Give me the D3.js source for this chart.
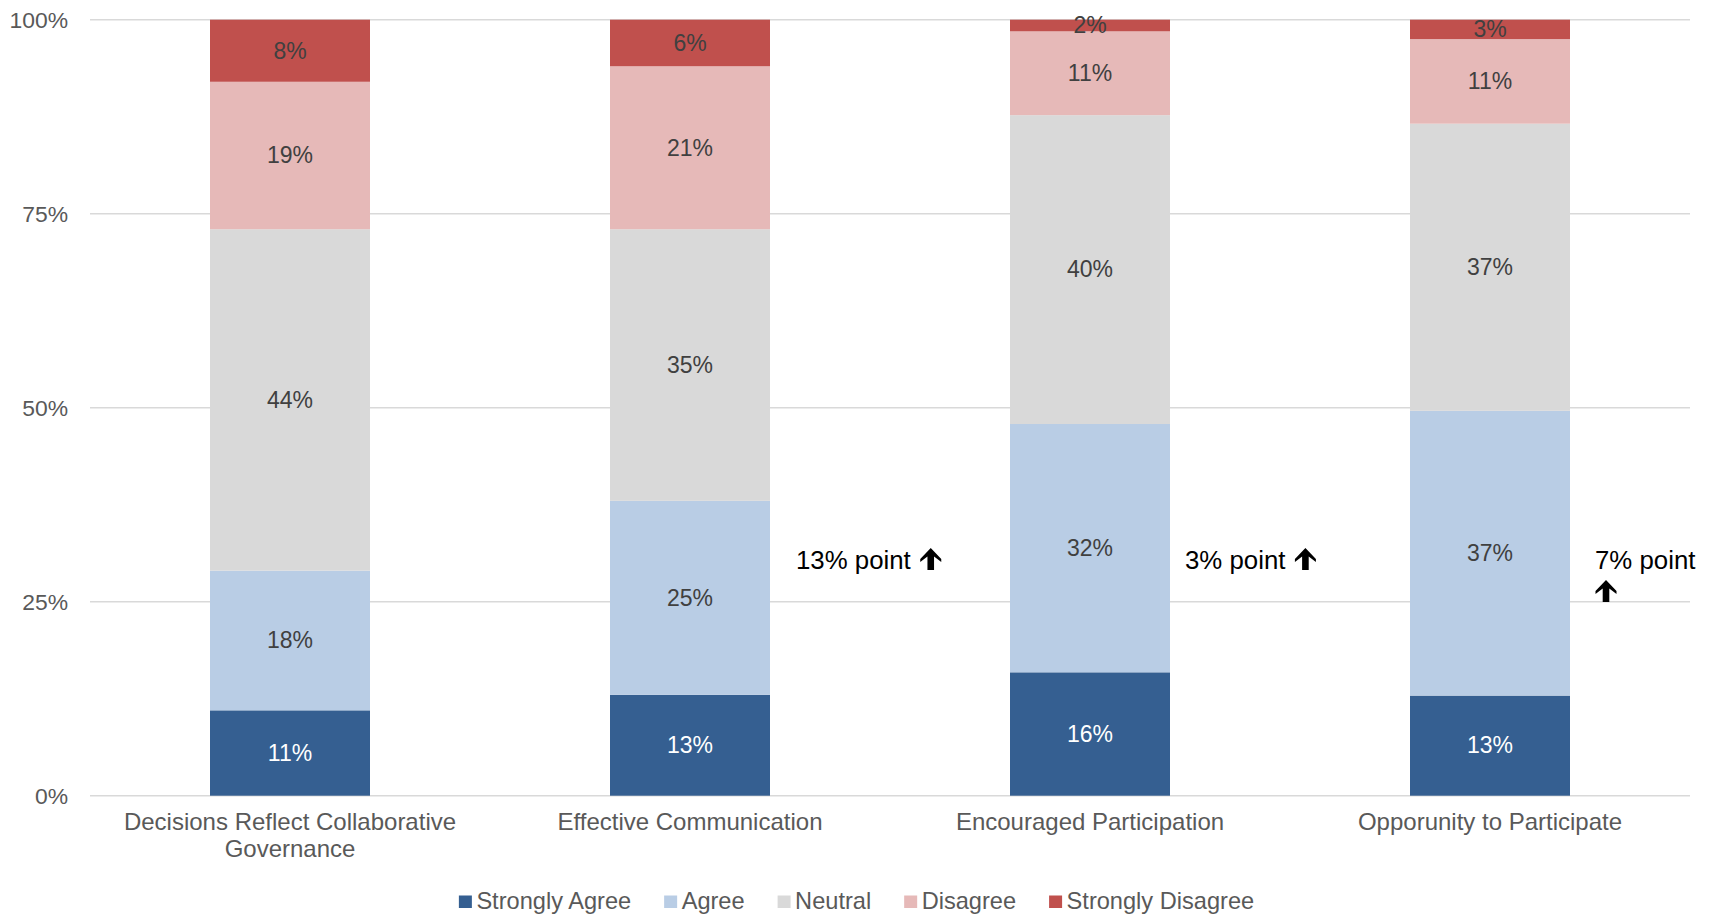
<!DOCTYPE html>
<html>
<head>
<meta charset="utf-8">
<script src="https://cdn.jsdelivr.net/npm/d3@7"></script>
<style>
  body { margin: 0; background: #fff; }
  text { font-family: "Liberation Sans", Arial, sans-serif; }
</style>
</head>
<body>
<div id="wrapper"></div>
<script>
// chart data
const categories = ["Decisions Reflect Collaborative Governance", "Effective Communication", "Encouraged Participation", "Opporunity to Participate"];
const seriesNames = ["Strongly Agree", "Agree", "Neutral", "Disagree", "Strongly Disagree"];
const stronglyAgree    = [11, 13, 15.9, 12.9];
const agree            = [18, 25, 32, 36.7];
const neutral          = [44, 35, 39.8, 37];
const disagree         = [19, 21, 10.8, 10.9];
const stronglyDisagree = [8, 6, 1.5, 2.5];
const yTicks = [0, 0.25, 0.5, 0.75, 1];
const notes = [
  { cat: "Effective Communication", text: "13% point", wrap: false, dx: 26 },
  { cat: "Encouraged Participation", text: "3% point", wrap: false, dx: 15 },
  { cat: "Opporunity to Participate", text: "7% point", wrap: true, dx: 25 },
];

const colors = ["#355F91", "#B9CDE5", "#D9D9D9", "#E6B9B8", "#C0504D"];
const labelColors = ["#ffffff", "#404040", "#404040", "#404040", "#404040"];

const width = 1713, height = 917;
const margin = { top: 19.7, right: 23, bottom: 121.3, left: 90 };
const boundedWidth = width - margin.left - margin.right;
const boundedHeight = height - margin.top - margin.bottom;

const rows = categories.map((c, i) => ({
  cat: c,
  "Strongly Agree": stronglyAgree[i],
  "Agree": agree[i],
  "Neutral": neutral[i],
  "Disagree": disagree[i],
  "Strongly Disagree": stronglyDisagree[i],
}));

const stacked = d3.stack().keys(seriesNames).offset(d3.stackOffsetExpand)(rows);

const svg = d3.select("#wrapper").append("svg")
  .attr("width", width)
  .attr("height", height);
const bounds = svg.append("g")
  .attr("transform", `translate(${margin.left},${margin.top})`);

const xScale = d3.scaleBand().domain(categories).range([0, boundedWidth]).paddingInner(0.6).paddingOuter(0.3);
const yScale = d3.scaleLinear().domain([0, 1]).range([boundedHeight, 0]);

// gridlines
bounds.append("g").selectAll("line")
  .data(yTicks)
  .join("line")
  .attr("x1", 0).attr("x2", boundedWidth)
  .attr("y1", d => yScale(d)).attr("y2", d => yScale(d))
  .attr("stroke", "#D9D9D9")
  .attr("stroke-width", 1.5);

// y axis
const yAxis = bounds.append("g")
  .call(d3.axisLeft(yScale).tickValues(yTicks).tickFormat(d3.format(".0%")).tickSize(0).tickPadding(22));
yAxis.select(".domain").remove();
yAxis.selectAll("text").attr("font-size", 22.9).attr("fill", "#595959")
  .style("font-family", "'Liberation Sans', Arial, sans-serif");

// bars
const layers = bounds.append("g").selectAll("g")
  .data(stacked)
  .join("g")
  .attr("fill", (d, i) => colors[i]);

layers.selectAll("rect")
  .data(d => d)
  .join("rect")
  .attr("x", d => xScale(d.data.cat))
  .attr("width", xScale.bandwidth())
  .attr("y", d => yScale(d[1]))
  .attr("height", d => yScale(d[0]) - yScale(d[1]));

// data labels
bounds.append("g").selectAll("g")
  .data(stacked)
  .join("g")
  .attr("fill", (d, i) => labelColors[i])
  .selectAll("text")
  .data(d => d.map(p => ({ p, key: d.key })))
  .join("text")
  .attr("x", d => xScale(d.p.data.cat) + xScale.bandwidth() / 2)
  .attr("y", d => (yScale(d.p[0]) + yScale(d.p[1])) / 2)
  .attr("text-anchor", "middle")
  .attr("dy", "0.34em")
  .attr("font-size", 23)
  .text(d => Math.round(d.p.data[d.key]) + "%");

// x axis labels
const xAxis = bounds.append("g")
  .attr("transform", `translate(0,${boundedHeight})`);
xAxis.selectAll("text")
  .data(categories)
  .join("text")
  .attr("x", d => xScale(d) + xScale.bandwidth() / 2)
  .attr("y", 34)
  .attr("text-anchor", "middle")
  .attr("font-size", 24)
  .attr("fill", "#595959")
  .each(function (d) {
    const t = d3.select(this);
    const lines = d === categories[0] ? ["Decisions Reflect Collaborative", "Governance"] : [d];
    lines.forEach((l, i) => t.append("tspan").attr("x", xScale(d) + xScale.bandwidth() / 2).attr("dy", i ? 27.5 : 0).text(l));
  });

// annotations
const arrowPath = "M0,-22 L10.5,-11 L10.5,-8 L3.3,-13.5 L3.3,0 L-3.3,0 L-3.3,-13.5 L-10.5,-8 L-10.5,-11 Z";
const noteY = yScale(0.292);
notes.forEach(n => {
  const x0 = xScale(n.cat) + xScale.bandwidth() + n.dx;
  const t = bounds.append("text")
    .attr("x", x0)
    .attr("y", noteY)
    .attr("font-size", 25.8)
    .attr("fill", "#000")
    .text(n.text);
  const w = t.node().getComputedTextLength();
  const ax = n.wrap ? x0 + 11 : x0 + w + 20;
  const ay = n.wrap ? noteY + 33 : noteY + 1;
  bounds.append("path")
    .attr("d", arrowPath)
    .attr("transform", `translate(${ax},${ay})`)
    .attr("fill", "#000");
});

// legend
const legend = svg.append("g").attr("transform", `translate(0,909)`);
const items = legend.selectAll("g")
  .data(seriesNames)
  .join("g");
items.append("rect")
  .attr("y", -13.5)
  .attr("width", 13)
  .attr("height", 12.5)
  .attr("fill", (d, i) => colors[i]);
items.append("text")
  .attr("x", 17.5)
  .attr("font-size", 23.6)
  .attr("fill", "#595959")
  .text(d => d);

let offsets = [], cursor = 0;
items.each(function () {
  const w = 17.5 + d3.select(this).select("text").node().getComputedTextLength();
  offsets.push(cursor);
  cursor += w + 33;
});
const total = cursor - 33;
const start = width / 2 - total / 2;
items.attr("transform", (d, i) => `translate(${start + offsets[i]},0)`);
</script>
</body>
</html>
